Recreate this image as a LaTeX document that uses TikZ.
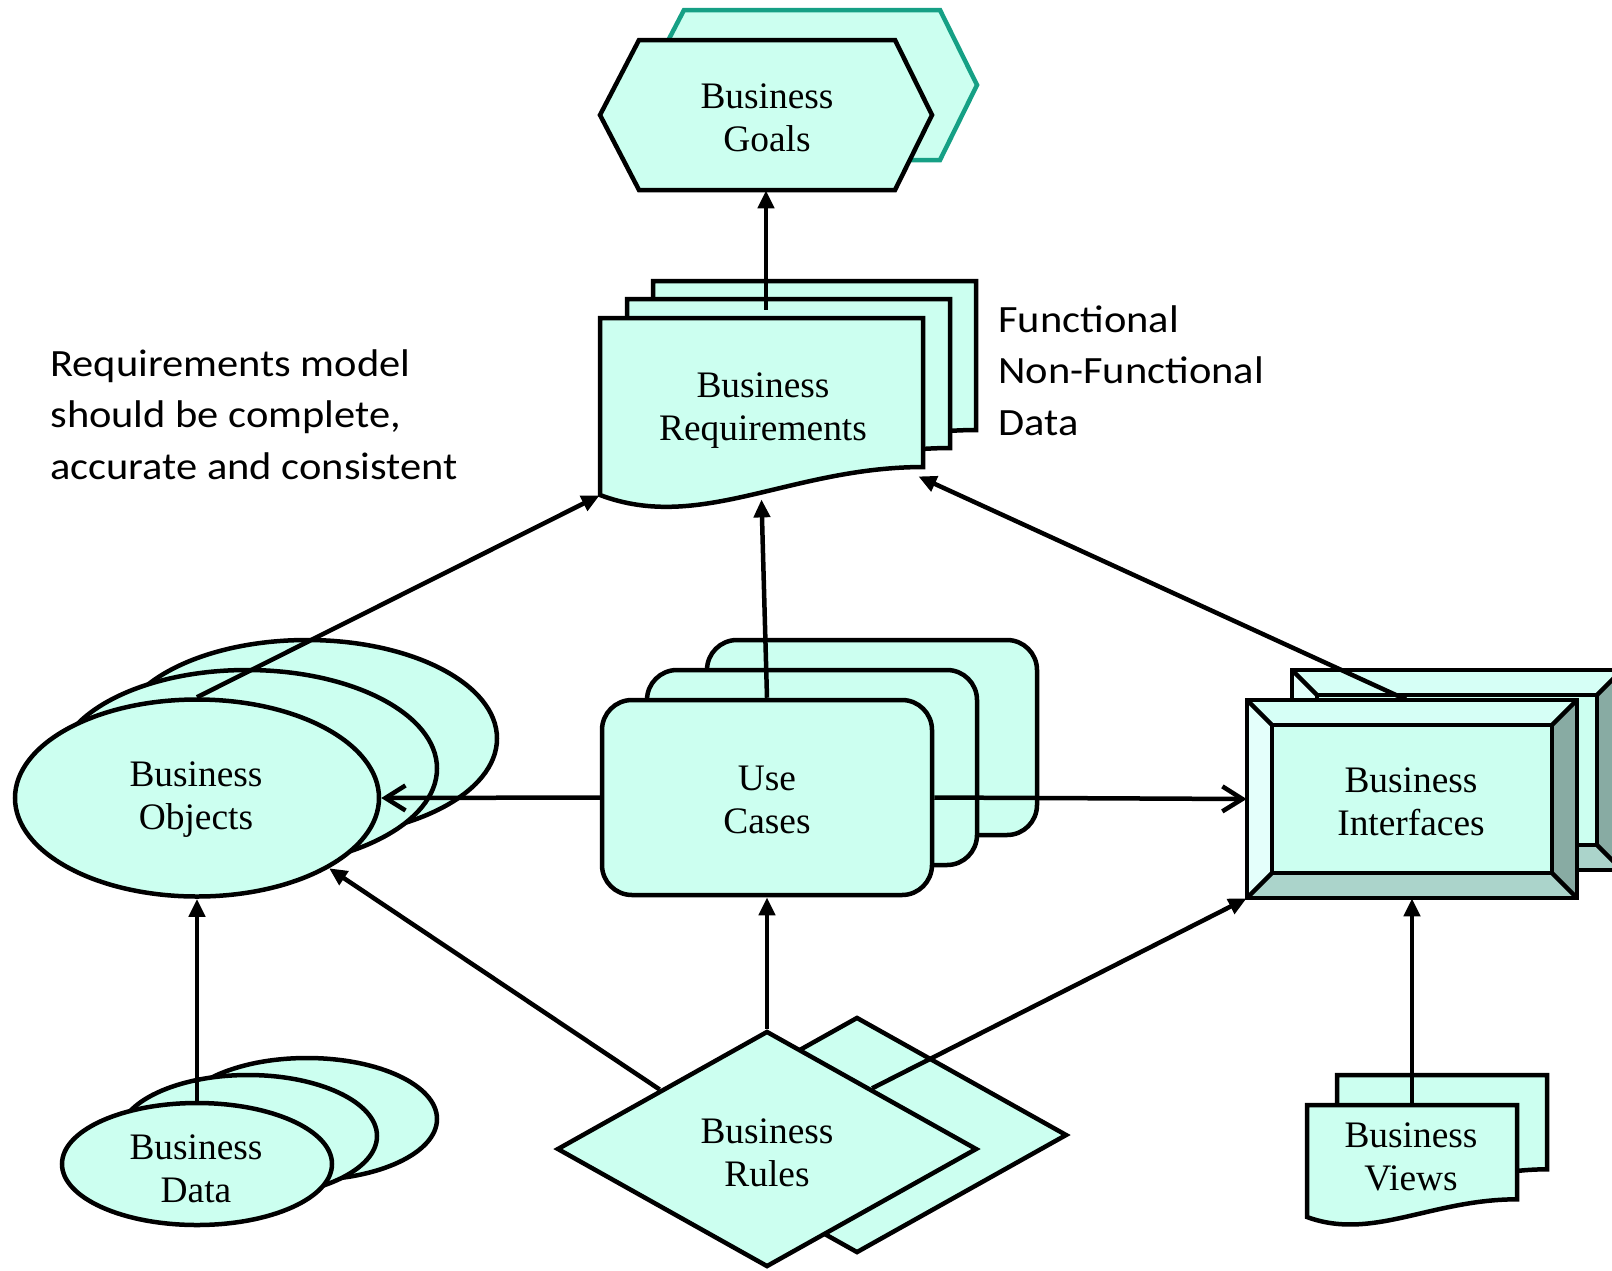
\documentclass[tikz,border=0pt]{standalone}
\usepackage{fontspec}
\setmainfont{Liberation Serif}
\newfontfamily\notefont[FakeStretch=1.1]{Carlito}
\usetikzlibrary{shapes.geometric,arrows.meta,calc}

\definecolor{mint}{RGB}{204,255,240}
\definecolor{goalteal}{RGB}{22,160,133}
\definecolor{bevtop}{RGB}{214,255,246}
\definecolor{bevleft}{RGB}{228,255,251}
\definecolor{bevright}{RGB}{136,171,163}
\definecolor{bevbot}{RGB}{171,212,203}

\tikzset{
  edge/.style={draw=black, line width=2.25pt, line join=miter},
  shapeline/.style={edge, fill=mint},
  lbl/.style={font=\fontsize{18.7}{21.5}\selectfont, align=center},
  note/.style={font=\notefont\fontsize{19.3}{25.7}\selectfont, align=left, inner sep=0pt},
  arr/.style={line width=2.25pt, -{Triangle[length=9pt,width=8pt]}},
  openarr/.style={line width=2.25pt, -{Straight Barb[length=10pt,width=12.5pt]}},
}

% document symbol: top-left corner, width, height at the left edge
\newcommand\docshape[5]{%
  \pgfmathsetmacro\dxr{#2+#4}\pgfmathsetmacro\dyl{#3+#5}%
  \pgfmathsetmacro\dyr{#3+0.842*#5}\pgfmathsetmacro\cxa{#2+0.59*#4}%
  \pgfmathsetmacro\cxb{#2+0.31*#4}\pgfmathsetmacro\cyb{#3+1.215*#5}%
  \draw[#1] (#2,#3) -- (\dxr,#3) -- (\dxr,\dyr)
    .. controls (\cxa,\dyr) and (\cxb,\cyb) .. (#2,\dyl) -- cycle;}

% bevelled screen box: outer corners
\newcommand\bevbox[4]{%
  \pgfmathsetmacro\bxa{#1+25}\pgfmathsetmacro\bya{#2+25}%
  \pgfmathsetmacro\bxb{#3-25}\pgfmathsetmacro\byb{#4-25}%
  \fill[bevtop] (#1,#2) -- (#3,#2) -- (\bxb,\bya) -- (\bxa,\bya) -- cycle;
  \fill[bevleft] (#1,#2) -- (\bxa,\bya) -- (\bxa,\byb) -- (#1,#4) -- cycle;
  \fill[bevright] (#3,#2) -- (#3,#4) -- (\bxb,\byb) -- (\bxb,\bya) -- cycle;
  \fill[bevbot] (#1,#4) -- (#3,#4) -- (\bxb,\byb) -- (\bxa,\byb) -- cycle;
  \draw[shapeline] (\bxa,\bya) rectangle (\bxb,\byb);
  \draw[edge] (#1,#2) rectangle (#3,#4);
  \draw[edge] (#1,#2) -- (\bxa,\bya) (#3,#2) -- (\bxb,\bya)
              (#3,#4) -- (\bxb,\byb) (#1,#4) -- (\bxa,\byb);}

\begin{document}
\begin{tikzpicture}[x=0.5pt,y=-0.5pt]
\useasboundingbox (0,0) rectangle (1612,1270);
\clip (0,0) rectangle (1612,1270);

% ---- Business Goals
\draw[shapeline, draw=goalteal] (684,10) -- (940,10) -- (977,85) -- (940,160)
  -- (684,160) -- (645,85) -- cycle;
\draw[shapeline] (639,40) -- (895,40) -- (932,115) -- (895,190)
  -- (639,190) -- (600,115) -- cycle;
\node[minimum width=166pt, minimum height=75pt] (goals) at (766,115) {};
\node[lbl] (goalstext) at (767,118) {Business\\Goals};

% ---- Business Requirements (stack of documents)
\docshape{shapeline}{653}{281}{323}{177}
\docshape{shapeline}{627}{299}{323}{177}
\docshape{shapeline}{600}{318}{323}{177}
\node[minimum width=161.5pt, minimum height=88.5pt] (req) at (761.5,406.5) {};
\node[lbl] (reqtext) at (763,411) {Business\\Requirements};

% ---- Business Objects
\draw[shapeline] (307,738.5) ellipse [x radius=95pt, y radius=49.25pt];
\draw[shapeline] (247,768.5) ellipse [x radius=95pt, y radius=49.25pt];
\node[shapeline, ellipse, inner sep=0pt, minimum width=182pt, minimum height=98.5pt]
  (objects) at (197,798) {};
\node[lbl] (objectstext) at (196,800) {Business\\Objects};

% ---- Business Data
\draw[shapeline] (307,1119) ellipse [x radius=65pt, y radius=30.5pt];
\draw[shapeline] (248,1136) ellipse [x radius=64.5pt, y radius=30.5pt];
\node[shapeline, ellipse, inner sep=0pt, minimum width=135pt, minimum height=61pt]
  (data) at (197,1164) {};
\node[lbl] (datatext) at (196,1169) {Business\\Data};

% ---- Use Cases
\draw[shapeline, rounded corners=15pt] (707,640) rectangle (1037,835);
\draw[shapeline, rounded corners=15pt] (647,670) rectangle (977,865);
\node[shapeline, rounded corners=15pt, minimum width=165pt, minimum height=97.5pt]
  (usecases) at (767,797.5) {};
\node[lbl] (usecasestext) at (767,800) {Use\\Cases};

% ---- Business Interfaces
\bevbox{1292}{670}{1622}{870}
\bevbox{1247}{700}{1577}{898}
\node[minimum width=165pt, minimum height=99pt] (intf) at (1412,799) {};
\node[lbl] (intftext) at (1411,802) {Business\\Interfaces};

% ---- Business Rules
\node[shapeline, diamond, inner sep=0pt, minimum width=210pt, minimum height=118pt]
  (rulesback) at (857,1135) {};
\node[shapeline, diamond, inner sep=0pt, minimum width=210pt, minimum height=118pt]
  (rules) at (767,1149) {};
\node[lbl] (rulestext) at (767,1153) {Business\\Rules};

% ---- Business Views
\docshape{shapeline}{1337}{1075}{210}{112}
\docshape{shapeline}{1307}{1105}{210}{112}
\node[minimum width=105pt, minimum height=56pt] (views) at (1412,1161) {};
\node[lbl] (viewstext) at (1411,1156.5) {Business\\Views};

% ---- remarks
\node[note, anchor=north west] (remark) at (50,349) {Requirements model\\should be complete,\\accurate and consistent};
\node[note, anchor=north west] (kinds) at (998,305) {Functional\\Non-Functional\\Data};

% ---- connectors
\draw[arr] ([yshift=4pt]goals.south |- req.north) -- (goals.south);
\draw[arr] (usecases.north) -- ([yshift=-2pt]req.south);
\draw[arr] (objects.north) -- (req.south west);
\draw[arr] ([xshift=-3pt]intf.north) -- ([xshift=-2.5pt,yshift=9.5pt]req.south east);
\draw[openarr] (usecases.west) -- (objects.east);
\draw[openarr] (usecases.east) -- (intf.west);
\draw[arr] (data.north) -- (objects.south);
\draw[arr] (rules.151) -- (objects.-28);
\draw[arr] (rules.north) -- (usecases.south);
\draw[arr] (rules.30) -- (intf.south west);
\draw[arr] (views.north) -- (intf.south);
\end{tikzpicture}
\end{document}
